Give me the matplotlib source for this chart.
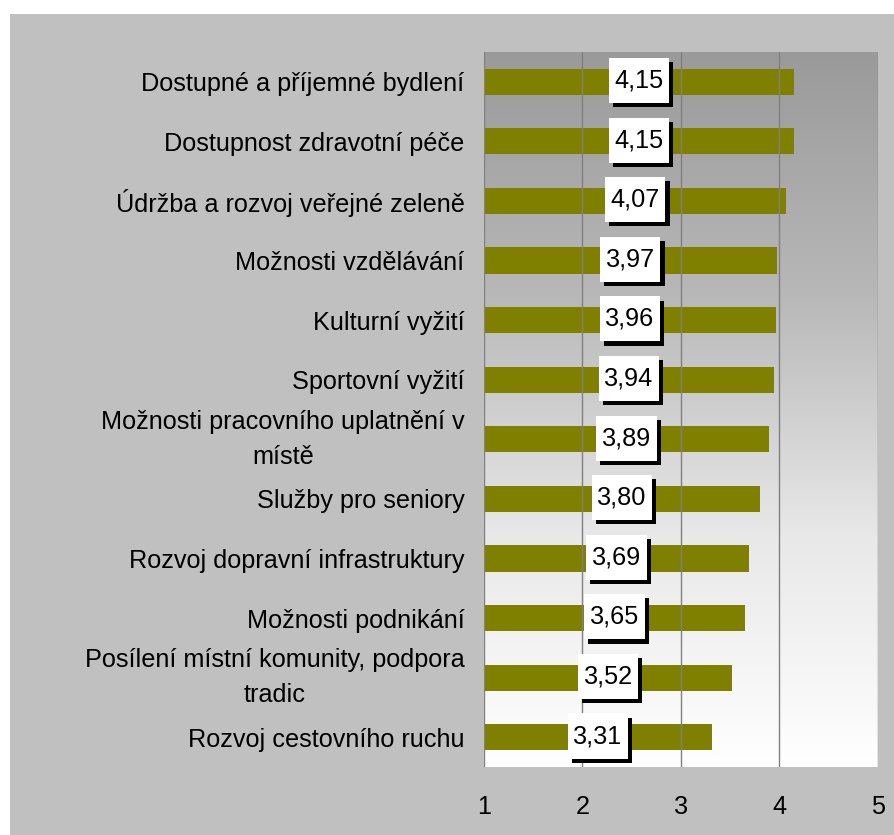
import numpy as np
import matplotlib.pyplot as plt
from matplotlib.patches import Rectangle
import matplotlib.patheffects as pe

plt.rcParams['font.family'] = ['Liberation Sans', 'DejaVu Sans']

# data
categories = ["Dostupné a příjemné bydlení",
              "Dostupnost zdravotní péče",
              "Údržba a rozvoj veřejné zeleně",
              "Možnosti vzdělávání",
              "Kulturní vyžití",
              "Sportovní vyžití",
              "Možnosti pracovního uplatnění v\nmístě",
              "Služby pro seniory",
              "Rozvoj dopravní infrastruktury",
              "Možnosti podnikání",
              "Posílení místní komunity, podpora\ntradic",
              "Rozvoj cestovního ruchu"]
values = [4.15, 4.15, 4.07, 3.97, 3.96, 3.94, 3.89, 3.80, 3.69, 3.65, 3.52, 3.31]
x_ticks = [1, 2, 3, 4, 5]

fs = 18.2

fig = plt.figure(figsize=(8.95, 8.35), dpi=100)
fig.patch.set_facecolor('white')
# gray chart area behind everything
bg = Rectangle((10 / 895, 0), 1, 1 - 14 / 835, transform=fig.transFigure,
               facecolor='#c0c0c0', edgecolor='none', zorder=-10)
fig.add_artist(bg)

ax = fig.add_axes([484 / 895, 1 - 767 / 835, 394 / 895, 715 / 835])
ax.set_xlim(1, 5)
ax.set_ylim(len(categories) - 0.5, -0.5)

# vertical gradient background (gray at top -> white at bottom)
t = np.linspace(0, 1, 256)
shade = np.interp(t, [0, 0.34, 0.675, 0.93, 1], [154, 184, 232, 250, 255]) / 255
grad = np.dstack([shade, shade, shade]).reshape(-1, 1, 3)
ax.imshow(grad, extent=[1, 5, len(categories) - 0.5, -0.5], aspect='auto', zorder=0)

y = np.arange(len(categories))
ax.barh(y, values, height=0.44, color='#808000', zorder=2)

for yi, v in zip(y, values):
    txt = ax.text((1 + v) / 2, yi - 0.02, f"{v:.2f}".replace('.', ','), ha='center', va='center',
                  fontsize=fs, zorder=4,
                  bbox=dict(boxstyle='square,pad=0.22', mutation_aspect=1.9,
                            facecolor='white', edgecolor='none'))
    txt.get_bbox_patch().set_path_effects([
        pe.SimplePatchShadow(offset=(3, -3), shadow_rgbFace='black', alpha=1), pe.Normal()])

ax.set_xticks(x_ticks)
ax.set_xticklabels([str(v) for v in x_ticks])
ax.set_yticks(y)
ax.set_yticklabels(categories, multialignment='center', linespacing=1.55)
for lab in ax.get_yticklabels():
    if '\n' in lab.get_text():
        lab.set_va('center')
ax.tick_params(axis='both', length=0, labelsize=fs)
ax.tick_params(axis='y', pad=14)
ax.tick_params(axis='x', pad=20)
ax.grid(axis='x', color='#808080', linewidth=1, zorder=1)
ax.set_axisbelow(False)
ax.patch.set_visible(False)
for s in ax.spines.values():
    s.set_visible(False)

fig.savefig('out.png', dpi=100)
